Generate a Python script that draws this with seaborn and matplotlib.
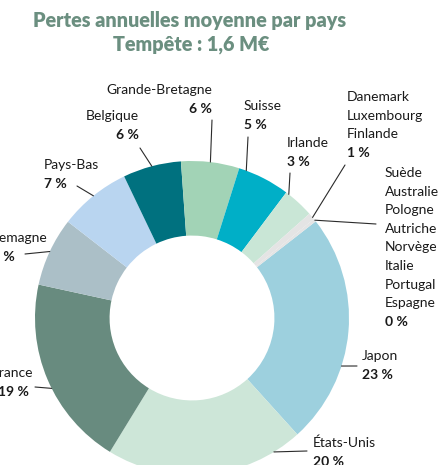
import numpy as np
import seaborn as sns
import matplotlib.pyplot as plt

# Data (share of annual losses, %)
countries = ['Japon', 'États-Unis', 'France', 'Allemagne', 'Pays-Bas', 'Belgique',
             'Grande-Bretagne', 'Suisse', 'Irlande', 'Danemark/Luxembourg/Finlande',
             'Suède/Australie/...']
shares = [23.9, 20.5, 19.7, 7.1, 7.4, 6.0, 6.0, 5.4, 3.2, 0.7, 0.3]
pct_labels = ['23 %', '20 %', '19 %', '8 %', '7 %', '6 %', '6 %', '5 %', '3 %', '1 %', '0 %']
name_lines = [
    ['Japon'], ['États-Unis'], ['France'], ['Allemagne'], ['Pays-Bas'], ['Belgique'],
    ['Grande-Bretagne'], ['Suisse'], ['Irlande'],
    ['Danemark', 'Luxembourg', 'Finlande'],
    ['Suède', 'Australie', 'Pologne', 'Autriche', 'Norvège', 'Italie', 'Portugal', 'Espagne'],
]
colors = ['#9dd0de', '#cde6d8', '#688b7f', '#abbfc7', '#b9d5f0', '#00717f',
          '#a2d3b6', '#00afc7', '#c9e6d6', '#e4e4e4', '#e4e4e4']

# Label layout in pixels (x, y of first line from top, alignment) and leader lines
W, H = 438, 465
label_pos = [
    (362, 356, 'left'), (313, 443, 'left'), (33, 373, 'right'), (48, 238, 'right'),
    (44, 165, 'left'), (139, 116, 'right'), (212, 90, 'right'), (244, 106, 'left'),
    (287, 143, 'left'), (347, 97, 'left'), (385, 173, 'left'),
]
# where on the wedge edge the leader starts (fraction from theta1) and where it ends (px)
leader_frac = [0.35, 0.855, 0.55, 0.5, 0.5, 0.5, 0.5, 0.86, 0.9, 0.3, 0.5]
leader_end = [(357, 366), (307, 451), (35, 387), (25, 254), (77, 186), (140, 148),
              (212, 120), (248, 137), (290, 173), (345, 165), (376, 224)]
# percent label offsets for the two cropped left labels
pct_x = [None, None, 29, 15, None, None, None, None, None, None, None]

title_color = '#6b8f80'
step = 18.6

sns.set_theme(style='white')
plt.rcParams['font.family'] = ['Lato', 'DejaVu Sans']

fig = plt.figure(figsize=(W / 100, H / 100), dpi=100)

# donut: centre (192, 318) px, radius 157 px
cx, cy, r = 192, 318, 157
ax = fig.add_axes([(cx - r) / W, (H - cy - r) / H, 2 * r / W, 2 * r / H])
wedges, _ = ax.pie(shares, colors=colors, startangle=38, counterclock=False,
                   radius=1, wedgeprops=dict(width=0.475, linewidth=0))
ax.set_xlim(-1, 1)
ax.set_ylim(-1, 1)
ax.axis('off')


def fx(px):
    return px / W


def fy(py):
    return 1 - py / H


for i, w in enumerate(wedges):
    ang = np.deg2rad(w.theta1 + leader_frac[i] * (w.theta2 - w.theta1))
    sx = cx + r * np.cos(ang)
    sy = cy - r * np.sin(ang)
    ex, ey = leader_end[i]
    fig.add_artist(plt.Line2D([fx(sx), fx(ex)], [fy(sy), fy(ey)],
                              color='#2b2b2b', linewidth=0.8))

    x, y0, ha = label_pos[i]
    for j, line in enumerate(name_lines[i]):
        fig.text(fx(x), fy(y0 + j * step), line, ha=ha, va='center',
                 fontsize=10, color='#1a1a1a')
    px = pct_x[i] if pct_x[i] is not None else x
    fig.text(fx(px), fy(y0 + len(name_lines[i]) * step), pct_labels[i], ha=ha,
             va='center', fontsize=10, fontweight='bold', color='#1a1a1a')

fig.text(fx(190), fy(20), 'Pertes annuelles moyenne par pays', ha='center', va='center',
         fontsize=14.2, fontweight='heavy', color=title_color)
fig.text(fx(191), fy(45), 'Tempête : 1,6 M€', ha='center', va='center',
         fontsize=14.2, fontweight='heavy', color=title_color)

fig.savefig('out.png', dpi=100)
